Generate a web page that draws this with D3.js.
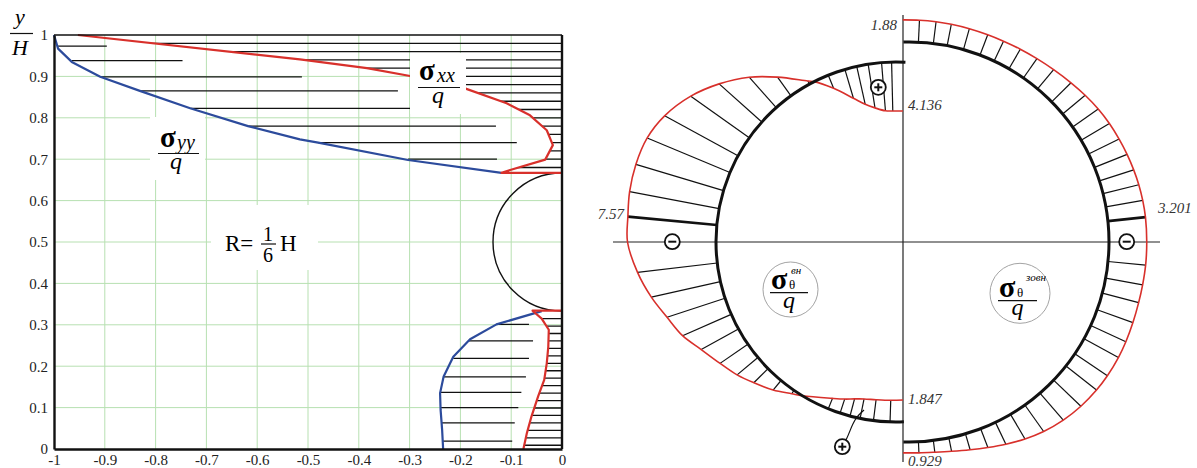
<!DOCTYPE html>
<html>
<head>
<meta charset="utf-8">
<script src="https://cdn.jsdelivr.net/npm/d3@7"></script>
<style>
  body { margin: 0; background: #fff; }
  svg { display: block; }
  text { font-family: "Liberation Serif", "Times New Roman", serif; }
</style>
</head>
<body>
<div id="chart"></div>
<script>
// ---------- left panel data ----------
var xTicks = [-1, -0.9, -0.8, -0.7, -0.6, -0.5, -0.4, -0.3, -0.2, -0.1, 0];
var xTickLabels = ["-1", "-0.9", "-0.8", "-0.7", "-0.6", "-0.5", "-0.4", "-0.3", "-0.2", "-0.1", "0"];
var yTicks = [0, 0.1, 0.2, 0.3, 0.4, 0.5, 0.6, 0.7, 0.8, 0.9, 1];
var yTickLabels = ["0", "0.1", "0.2", "0.3", "0.4", "0.5", "0.6", "0.7", "0.8", "0.9", "1"];

// sigma_xx / q, upper part (red)
var sxxTopX = [-0.953, -0.516, -0.384, -0.299, -0.191, -0.109, -0.063, -0.030, -0.018, -0.033, -0.102, -0.119, 0];
var sxxTopY = [1.0, 0.941, 0.920, 0.901, 0.871, 0.835, 0.806, 0.770, 0.734, 0.699, 0.674, 0.667, 0.667];
// sigma_yy / q, upper part (blue)
var syyTopX = [-1, -0.992, -0.965, -0.909, -0.831, -0.732, -0.618, -0.516, -0.480, -0.303, -0.119];
var syyTopY = [1, 0.967, 0.935, 0.899, 0.865, 0.823, 0.780, 0.748, 0.740, 0.698, 0.667];
// lower part
var sxxBotX = [0, -0.058, -0.040, -0.026, -0.027, -0.030, -0.035, -0.047, -0.060, -0.069, -0.076];
var sxxBotY = [0.334, 0.334, 0.315, 0.288, 0.247, 0.207, 0.167, 0.127, 0.079, 0.039, 0];
var syyBotX = [-0.04, -0.129, -0.181, -0.214, -0.233, -0.240, -0.239, -0.236, -0.234];
var syyBotY = [0.333, 0.301, 0.265, 0.223, 0.175, 0.135, 0.095, 0.047, 0];

// hatching levels
var sxxTopHatch = [0.98, 0.96, 0.94, 0.92, 0.90, 0.88, 0.86, 0.84, 0.82, 0.80, 0.78, 0.76, 0.74, 0.72, 0.70, 0.68];
var sxxBotHatch = [0.315, 0.297, 0.279, 0.261, 0.243, 0.225, 0.207, 0.189, 0.171, 0.153, 0.135, 0.117, 0.099, 0.081, 0.063, 0.045, 0.027, 0.009];
var syyHatchY = [0.973, 0.938, 0.899, 0.865, 0.823, 0.780, 0.740, 0.700, 0.301, 0.261, 0.219, 0.174, 0.137, 0.100, 0.063, 0.019];
var syyHatchX1 = [-0.992, -0.965, -0.909, -0.831, -0.732, -0.618, -0.480, -0.303, -0.129, -0.184, -0.214, -0.234, -0.240, -0.240, -0.237, -0.235];
var syyHatchX2 = [-0.896, -0.747, -0.512, -0.323, -0.299, -0.130, -0.089, -0.128, -0.065, -0.057, -0.065, -0.071, -0.080, -0.086, -0.093, -0.098];

// ---------- right panel data (sigma_theta / q around the hole) ----------
// positive = tension (drawn inside), negative = compression (drawn outside)
var innerAngles = [87, 91.4, 94.6, 98.9, 102.6, 106.5, 112.1, 117, 118.7, 125.7, 131.7, 138.2, 144.6, 151.4, 157.3,
  163.4, 169.3, 174.6, 180, 186.7, 192.7, 198.2, 203.7, 208.9, 214.6, 219.9, 224.7, 230.3, 235.5, 238.7,
  247.9, 251.9, 255.2, 258.5, 262.8, 268.1, 272.5];
var innerValues = [4.136, 4.15, 4.1, 3.75, 3.3, 2.55, 1.2, 0, -0.3, -1.95, -3.45, -4.85, -6.08, -7.08, -7.6,
  -7.75, -7.72, -7.57, -7.5, -6.8, -6.0, -5.17, -4.5, -3.6, -2.86, -2.3, -1.7, -1.05, -0.35, 0,
  0.95, 1.25, 1.5, 1.68, 1.78, 1.83, 1.847];
var innerHatch = [91.4, 94.6, 98.9, 102.6, 106.5, 112.1, 118.7, 125.7, 131.7, 138.2, 144.6, 151.4, 157.3,
  163.4, 169.3, 174.6, 186.7, 192.7, 198.2, 203.7, 208.9, 214.6, 219.9, 224.7, 230.3, 235.5,
  247.9, 251.9, 255.2, 258.5, 262.8, 268.1];

var outerAngles = [91.6, 87.3, 83, 79, 74.2, 69.2, 64.8, 60, 55.1, 50, 44.5, 39.8, 35.1, 30.6, 26.1, 21.9, 17.8, 14, 10.1, 6, 0,
  -5.6, -10.4, -14.8, -19.8, -24.7, -28.9, -34, -38.3, -43.7, -49.1, -54.6, -59.5, -64.4, -69, -73.6, -78.5, -83, -87.3, -91.6];
var outerValues = [-1.88, -1.87, -1.86, -1.85, -1.84, -1.84, -1.86, -1.92, -2.0, -2.12, -2.3, -2.48, -2.65, -2.78, -2.88, -2.97, -3.05, -3.12, -3.17, -3.201, -3.2,
  -3.2, -3.18, -3.18, -3.22, -3.28, -3.32, -3.33, -3.3, -3.2, -3.02, -2.75, -2.42, -2.05, -1.7, -1.4, -1.15, -1.0, -0.94, -0.929];

var valueLabels = ["1.88", "4.136", "7.57", "3.201", "1.847", "0.929"];

// ---------- svg ----------
var svgWidth = 1197, svgHeight = 468;
var serif = '"Liberation Serif", "Times New Roman", serif';

var svg = d3.select("#chart").append("svg")
  .attr("width", svgWidth)
  .attr("height", svgHeight);
var defs = svg.append("defs");

var xScale = d3.scaleLinear().domain([-1, 0]).range([54, 562]);
var yScale = d3.scaleLinear().domain([0, 1]).range([449, 35]);

var left = svg.append("g");

// grid
left.append("g").selectAll("line")
  .data(xTicks.slice(1, -1))
  .enter().append("line")
  .attr("x1", d => xScale(d)).attr("x2", d => xScale(d))
  .attr("y1", yScale(0)).attr("y2", yScale(1))
  .attr("stroke", "#b7e0b1").attr("stroke-width", 1);
left.append("g").selectAll("line")
  .data(yTicks.slice(1, -1))
  .enter().append("line")
  .attr("y1", d => yScale(d)).attr("y2", d => yScale(d))
  .attr("x1", xScale(-1)).attr("x2", xScale(0))
  .attr("stroke", "#b7e0b1").attr("stroke-width", 1);

// hatching of sigma_xx, clipped by the red curve
function regionPath(xs, ys, closeX, closeY) {
  var pts = xs.map((x, i) => [xScale(x), yScale(ys[i])]);
  pts.push([xScale(closeX), yScale(closeY)]);
  return "M" + pts.join("L") + "Z";
}
defs.append("clipPath").attr("id", "clipTop")
  .append("path").attr("d", regionPath(sxxTopX, sxxTopY, 0, 1));
defs.append("clipPath").attr("id", "clipBot")
  .append("path").attr("d", regionPath(sxxBotX, sxxBotY, 0, 0));

left.append("g").attr("clip-path", "url(#clipTop)")
  .selectAll("line").data(sxxTopHatch).enter().append("line")
  .attr("x1", xScale(-1)).attr("x2", xScale(0))
  .attr("y1", d => yScale(d)).attr("y2", d => yScale(d))
  .attr("stroke", "#111").attr("stroke-width", 1.3);
left.append("g").attr("clip-path", "url(#clipBot)")
  .selectAll("line").data(sxxBotHatch).enter().append("line")
  .attr("x1", xScale(-1)).attr("x2", xScale(0))
  .attr("y1", d => yScale(d)).attr("y2", d => yScale(d))
  .attr("stroke", "#111").attr("stroke-width", 1.3);

// hatching of sigma_yy
left.append("g").selectAll("line")
  .data(syyHatchY).enter().append("line")
  .attr("x1", (d, i) => xScale(syyHatchX1[i])).attr("x2", (d, i) => xScale(syyHatchX2[i]))
  .attr("y1", d => yScale(d)).attr("y2", d => yScale(d))
  .attr("stroke", "#111").attr("stroke-width", 1.3);

// the hole, R = H/6
var holeR = yScale(0.5) - yScale(0.5 + 1 / 6);
var hole = d3.path();
hole.arc(xScale(0), yScale(0.5), holeR, -Math.PI / 2, Math.PI / 2, true);
left.append("path").attr("d", hole.toString())
  .attr("fill", "none").attr("stroke", "#111").attr("stroke-width", 1.4);

// curves
var line = d3.line().x(d => xScale(d[0])).y(d => yScale(d[1]));
function pairs(xs, ys) { return xs.map((x, i) => [x, ys[i]]); }

[[syyTopX, syyTopY], [syyBotX, syyBotY]].forEach(function(s) {
  left.append("path").attr("d", line(pairs(s[0], s[1])))
    .attr("fill", "none").attr("stroke", "#2c4b9c").attr("stroke-width", 2.2)
    .attr("stroke-linejoin", "round");
});
[[sxxTopX, sxxTopY], [sxxBotX, sxxBotY]].forEach(function(s) {
  left.append("path").attr("d", line(pairs(s[0], s[1])))
    .attr("fill", "none").attr("stroke", "#d8302b").attr("stroke-width", 2.2)
    .attr("stroke-linejoin", "round");
});

// axes
var bottomAxis = d3.axisBottom(xScale).tickValues(xTicks).tickSize(0).tickPadding(5)
  .tickFormat((d, i) => xTickLabels[i]);
var leftAxis = d3.axisLeft(yScale).tickValues(yTicks).tickSize(0).tickPadding(6)
  .tickFormat((d, i) => yTickLabels[i]);

left.append("g")
  .attr("transform", `translate(0, ${yScale(0)})`)
  .call(bottomAxis)
  .call(g => g.select(".domain").attr("stroke", "#111").attr("stroke-width", 2.4));
left.append("g")
  .attr("transform", `translate(${xScale(-1)}, 0)`)
  .call(leftAxis)
  .call(g => g.select(".domain").attr("stroke", "#111").attr("stroke-width", 2.4));
left.selectAll(".tick text")
  .attr("fill", "#222")
  .style("font-family", serif)
  .style("font-size", "15px");

left.append("line")
  .attr("x1", xScale(0)).attr("x2", xScale(0))
  .attr("y1", yScale(0)).attr("y2", yScale(1))
  .attr("stroke", "#111").attr("stroke-width", 2.4);
left.append("line")
  .attr("x1", xScale(-1)).attr("x2", xScale(0))
  .attr("y1", yScale(1)).attr("y2", yScale(1))
  .attr("stroke", "#111").attr("stroke-width", 1.4);

// label boxes
function whiteBox(x, y, w, h) {
  left.append("rect").attr("x", x).attr("y", y).attr("width", w).attr("height", h).attr("fill", "#fff");
}
whiteBox(150, 117, 55, 63);
whiteBox(410, 53, 56, 61);
whiteBox(211, 205, 107, 65);

function fracLine(g, x1, x2, y) {
  g.append("line").attr("x1", x1).attr("x2", x2).attr("y1", y).attr("y2", y)
    .attr("stroke", "#111").attr("stroke-width", 1.2);
}
// one text element per formula, parts placed with absolute tspans
function formula(g, parts) {
  var t = g.append("text");
  parts.forEach(function(p) {
    t.append("tspan")
      .attr("x", p.x).attr("y", p.y)
      .attr("text-anchor", p.anchor || "start")
      .attr("font-size", p.size)
      .attr("font-weight", p.bold ? "bold" : null)
      .attr("font-style", p.italic ? "italic" : null)
      .text(p.t);
  });
  return t;
}

// y/H
formula(left, [
  { t: "y", x: 15, y: 24, size: 22, italic: true },
  { t: "H", x: 12, y: 55, size: 22, italic: true }
]);
fracLine(left, 10, 33, 33.5);

// sigma_yy / q
formula(left, [
  { t: "σ", x: 160, y: 147, size: 29, bold: true },
  { t: "yy", x: 177, y: 149, size: 20, italic: true },
  { t: "q", x: 176, y: 169, size: 24, italic: true, anchor: "middle" }
]);
fracLine(left, 158, 199, 153.5);

// sigma_xx / q
formula(left, [
  { t: "σ", x: 419, y: 80, size: 29, bold: true },
  { t: "xx", x: 437, y: 82, size: 20, italic: true },
  { t: "q", x: 438, y: 103, size: 24, italic: true, anchor: "middle" }
]);
fracLine(left, 418, 460, 87.5);

// R = H/6
formula(left, [
  { t: "R=", x: 225, y: 251, size: 23 },
  { t: "1", x: 268, y: 241, size: 20, anchor: "middle" },
  { t: "6", x: 268, y: 261.5, size: 20, anchor: "middle" },
  { t: "H", x: 280, y: 251, size: 23 }
]);
fracLine(left, 261, 276, 244);

// ---------- right panel ----------
var right = svg.append("g");
var rScale = d3.scaleLinear().domain([0, 1]).range([0, 11.8]);
var inner = { cx: 896, cy: 242, r: 180 };
var outer = { cx: 909, cy: 242, r: 200 };
var rad = Math.PI / 180;

function polar(c, deg, r) {
  return [c.cx + r * Math.cos(deg * rad), c.cy - r * Math.sin(deg * rad)];
}
function curvePoints(c, angles, values) {
  return angles.map((a, i) => polar(c, a, c.r - rScale(values[i])));
}

// axes of symmetry
right.append("line").attr("x1", 613).attr("x2", 1160).attr("y1", 242).attr("y2", 242)
  .attr("stroke", "#222").attr("stroke-width", 1.2);
right.append("line").attr("x1", 903).attr("x2", 903).attr("y1", 15).attr("y2", 462)
  .attr("stroke", "#222").attr("stroke-width", 1.2);

// hatching
function hatch(c, angles, values, marks, thick) {
  right.append("g").selectAll("line")
    .data(marks).enter().append("line")
    .each(function(a) {
      var v = values[angles.indexOf(a)];
      var p0 = polar(c, a, c.r), p1 = polar(c, a, c.r - rScale(v));
      d3.select(this).attr("x1", p0[0]).attr("y1", p0[1]).attr("x2", p1[0]).attr("y2", p1[1]);
    })
    .attr("stroke", "#111")
    .attr("stroke-width", a => a === thick ? 2.6 : 1.2);
}
hatch(inner, innerAngles, innerValues, innerHatch, 174.6);
hatch(outer, outerAngles, outerValues, outerAngles.slice(1, -1).filter(a => a !== 0), 6);

// red stress curves
var smooth = d3.line().curve(d3.curveCatmullRom.alpha(0.5));
right.append("path").attr("d", smooth(curvePoints(inner, innerAngles, innerValues)))
  .attr("fill", "none").attr("stroke", "#d8302b").attr("stroke-width", 1.6);
right.append("path").attr("d", smooth(curvePoints(outer, outerAngles, outerValues)))
  .attr("fill", "none").attr("stroke", "#d8302b").attr("stroke-width", 1.6);

// hole contour
var arcIn = d3.path();
arcIn.arc(inner.cx, inner.cy, inner.r, -innerAngles[0] * rad, -innerAngles[innerAngles.length - 1] * rad, true);
right.append("path").attr("d", arcIn.toString())
  .attr("fill", "none").attr("stroke", "#111").attr("stroke-width", 3);
var arcOut = d3.path();
arcOut.arc(outer.cx, outer.cy, outer.r, -outerAngles[0] * rad, -outerAngles[outerAngles.length - 1] * rad, false);
right.append("path").attr("d", arcOut.toString())
  .attr("fill", "none").attr("stroke", "#111").attr("stroke-width", 3);

// value labels
var labelPos = [[897, 30, "end"], [908, 110, "start"], [624, 219, "end"], [1158, 213, "start"], [908, 404, "start"], [908, 466, "start"]];
right.append("g").selectAll("text")
  .data(valueLabels).enter().append("text")
  .attr("x", (d, i) => labelPos[i][0]).attr("y", (d, i) => labelPos[i][1])
  .attr("text-anchor", (d, i) => labelPos[i][2])
  .attr("font-size", 15).attr("font-style", "italic").attr("fill", "#333")
  .text(d => d);

// sign marks
function sign(x, y, plus) {
  var g = right.append("g");
  g.append("circle").attr("cx", x).attr("cy", y).attr("r", 7.5)
    .attr("fill", "#fff").attr("stroke", "#111").attr("stroke-width", 1.8);
  g.append("line").attr("x1", x - 4).attr("x2", x + 4).attr("y1", y).attr("y2", y)
    .attr("stroke", "#111").attr("stroke-width", 2);
  if (plus) {
    g.append("line").attr("x1", x).attr("x2", x).attr("y1", y - 4).attr("y2", y + 4)
      .attr("stroke", "#111").attr("stroke-width", 2);
  }
}
right.append("path").attr("d", "M846,440 C852,428 852,420 864,410")
  .attr("fill", "none").attr("stroke", "#111").attr("stroke-width", 1.2);
sign(878.3, 87.3, true);
sign(672.3, 241.7, false);
sign(1126.7, 241.7, false);
sign(842.3, 446.7, true);

// sigma_theta labels
function thetaLabel(cx, cy, r, sx, sy, sup, supX, supY, lx1, lx2, ly, qy) {
  right.append("circle").attr("cx", cx).attr("cy", cy).attr("r", r)
    .attr("fill", "#fff").attr("stroke", "#999").attr("stroke-width", 0.9);
  formula(right, [
    { t: "σ", x: sx, y: sy, size: 30, bold: true },
    { t: sup, x: supX, y: supY, size: 11, italic: true },
    { t: "θ", x: sx + 18, y: sy, size: 13 },
    { t: "q", x: (lx1 + lx2) / 2, y: qy, size: 24, italic: true, anchor: "middle" }
  ]);
  fracLine(right, lx1, lx2, ly);
}
thetaLabel(790.5, 289.5, 27.5, 771, 288.5, "вн", 791, 274, 770, 808, 292.7, 308);
thetaLabel(1020, 293.3, 30, 999, 296.5, "зовн", 1026, 281, 998, 1037, 300.7, 315);
</script>
</body>
</html>
